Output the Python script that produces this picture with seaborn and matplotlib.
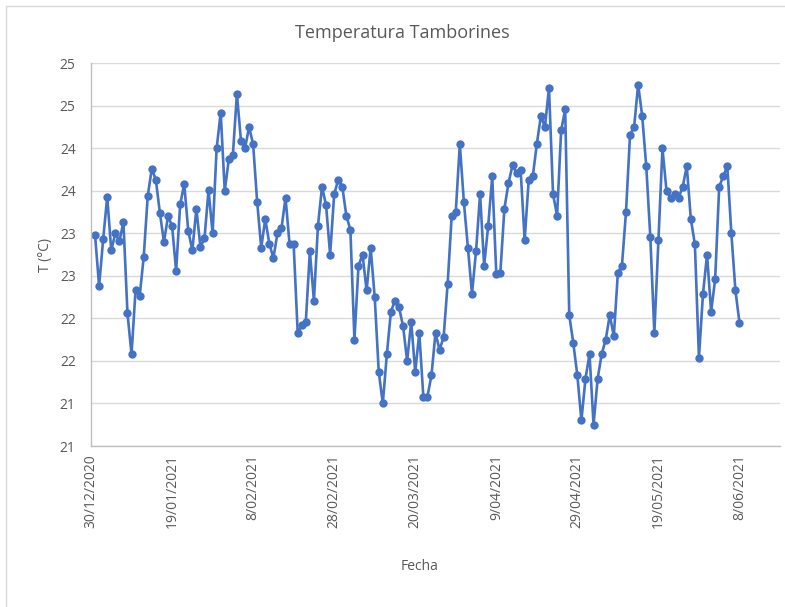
import math
import pandas as pd
import matplotlib
matplotlib.use("Agg")
import matplotlib.pyplot as plt
import matplotlib.ticker as mticker
from matplotlib.patches import Rectangle
import seaborn as sns

sns.set_theme(style="white")
plt.rcParams["font.family"] = ["Open Sans", "DejaVu Sans"]

# daily temperature, 31/12/2020 .. 8/06/2021
START_DATE = "2020-12-31"
TEMPS: list[float] = [
    22.98, 22.38, 22.93, 23.43, 22.80, 23.00, 22.91, 23.13, 22.06, 21.58,
    22.34, 22.26, 22.72, 23.44, 23.76, 23.63, 23.24, 22.90, 23.20, 23.09,
    22.56, 23.34, 23.58, 23.03, 22.80, 23.29, 22.84, 22.94, 23.51, 23.00,
    24.00, 24.42, 23.50, 23.87, 23.92, 24.64, 24.09, 24.00, 24.25, 24.05,
    23.37, 22.83, 23.17, 22.88, 22.71, 23.00, 23.06, 23.42, 22.87, 22.87,
    21.83, 21.92, 21.96, 22.79, 22.21, 23.09, 23.55, 23.33, 22.75, 23.46,
    23.63, 23.55, 23.21, 23.04, 21.75, 22.62, 22.75, 22.33, 22.83, 22.25,
    21.37, 21.00, 21.58, 22.08, 22.21, 22.13, 21.91, 21.50, 21.96, 21.37,
    21.83, 21.08, 21.08, 21.33, 21.83, 21.63, 21.78, 22.41, 23.21, 23.25,
    24.05, 23.37, 22.83, 22.29, 22.79, 23.46, 22.62, 23.09, 23.67, 22.52,
    22.54, 23.29, 23.59, 23.80, 23.71, 23.75, 22.92, 23.63, 23.67, 24.05,
    24.38, 24.25, 24.71, 23.46, 23.21, 24.21, 24.46, 22.04, 21.71, 21.33,
    20.80, 21.29, 21.58, 20.75, 21.29, 21.58, 21.75, 22.04, 21.79, 22.54,
    22.62, 23.25, 24.16, 24.25, 24.75, 24.38, 23.79, 22.96, 21.83, 22.92,
    24.00, 23.50, 23.42, 23.46, 23.42, 23.55, 23.79, 23.17, 22.87, 21.54,
    22.29, 22.75, 22.08, 22.46, 23.55, 23.67, 23.79, 23.00, 22.33, 21.95,
]
X_TICKS: list[str] = [
    "2020-12-30", "2021-01-19", "2021-02-08", "2021-02-28", "2021-03-20",
    "2021-04-09", "2021-04-29", "2021-05-19", "2021-06-08",
]
Y_TICKS: list[float] = [20.5, 21, 21.5, 22, 22.5, 23, 23.5, 24, 24.5, 25]

DATES = pd.date_range(START_DATE, periods=len(TEMPS), freq="D")
dataframe = pd.DataFrame({"Fecha": DATES, "T": TEMPS})

BLUE = "#4472C4"
GREY_TXT = "#595959"

fig = plt.figure(figsize=(7.85, 6.07), dpi=100)
ax = fig.add_axes([91 / 785, 1 - 446 / 607, (780 - 91) / 785, (446 - 63.3) / 607])

sns.lineplot(data=dataframe, x="Fecha", y="T", ax=ax, color=BLUE, linewidth=1.9,
             marker="o", markersize=6, markeredgewidth=0, markeredgecolor=BLUE)

ax.set_ylim(20.5, 25)
ax.set_yticks(Y_TICKS)
ax.yaxis.set_major_formatter(mticker.FuncFormatter(lambda v, p: f"{int(math.floor(v + 0.5))}"))
ax.grid(axis="y", color="#D9D9D9", linewidth=1)
ax.set_axisbelow(True)

tick_dates = pd.to_datetime(X_TICKS)
ax.set_xlim(pd.Timestamp("2020-12-30"), pd.Timestamp("2021-06-18"))
ax.set_xticks(tick_dates)
ax.set_xticklabels([f"{d.day}/{d.month:02d}/{d.year}" for d in tick_dates], rotation=90)

ax.tick_params(axis="y", length=0, pad=11, labelsize=10, labelcolor=GREY_TXT)
ax.tick_params(axis="x", length=4, width=1, color="#BFBFBF", pad=2, labelsize=10,
               labelcolor=GREY_TXT, direction="out")
for side in ["top", "right"]:
    ax.spines[side].set_visible(False)
for side in ["left", "bottom"]:
    ax.spines[side].set_color("#BFBFBF")
    ax.spines[side].set_linewidth(1)

ax.set_xlabel("")
ax.set_ylabel("")
fig.text(45 / 785, 1 - 255 / 607, "T (°C)", rotation=90, ha="center", va="center",
         fontsize=10, color=GREY_TXT)
fig.text(420 / 785, 1 - 566 / 607, "Fecha", ha="center", va="center",
         fontsize=10, color=GREY_TXT)
fig.text(402 / 785, 1 - 33 / 607, "Temperatura Tamborines", ha="center", va="center",
         fontsize=13, color=GREY_TXT)

# chart area border
fig.patches.append(Rectangle((6 / 785, -0.05), 1.1, 1 - 6 / 607 + 0.05,
                             transform=fig.transFigure, fill=False,
                             edgecolor="#D9D9D9", linewidth=1))

fig.savefig("out.png", dpi=100)
